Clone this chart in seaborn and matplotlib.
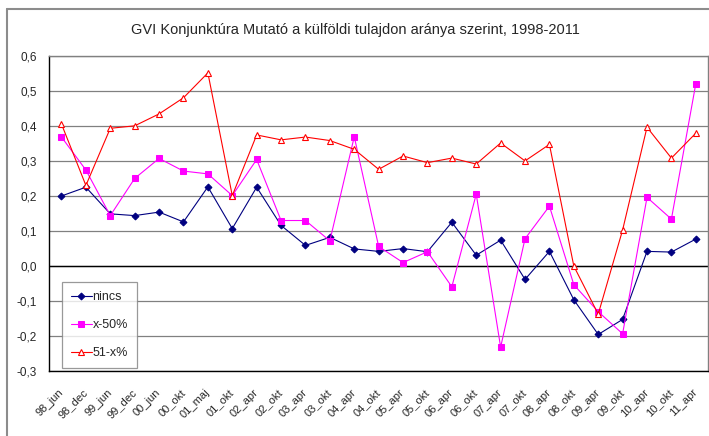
import numpy as np
import matplotlib
matplotlib.use("Agg")
import matplotlib.pyplot as plt
from matplotlib.lines import Line2D
from matplotlib.ticker import FuncFormatter, MultipleLocator
import seaborn as sns

categories = ["98_jun", "98_dec", "99_jun", "99_dec", "00_jun", "00_okt", "01_maj",
              "01_okt", "02_apr", "02_okt", "03_apr", "03_okt", "04_apr", "04_okt",
              "05_apr", "05_okt", "06_apr", "06_okt", "07_apr", "07_okt", "08_apr",
              "08_okt", "09_apr", "09_okt", "10_apr", "10_okt", "11_apr"]
nincs = [0.200, 0.225, 0.149, 0.144, 0.154, 0.126, 0.226, 0.107, 0.225, 0.116,
         0.059, 0.082, 0.049, 0.042, 0.050, 0.041, 0.125, 0.031, 0.074, -0.038,
         0.042, -0.096, -0.195, -0.152, 0.042, 0.040, 0.077]
x_50 = [0.368, 0.274, 0.144, 0.250, 0.307, 0.271, 0.263, 0.201, 0.304, 0.130,
        0.130, 0.072, 0.369, 0.056, 0.010, 0.041, -0.059, 0.205, -0.231, 0.078,
        0.171, -0.053, -0.130, -0.193, 0.196, 0.134, 0.520]
x_51 = [0.405, 0.230, 0.393, 0.400, 0.434, 0.480, 0.551, 0.201, 0.374, 0.360,
        0.368, 0.358, 0.333, 0.276, 0.314, 0.295, 0.308, 0.291, 0.351, 0.300,
        0.347, 0.000, -0.137, 0.103, 0.396, 0.308, 0.379]

sns.set_style("white")
plt.rcParams["font.family"] = ["Liberation Sans", "DejaVu Sans"]

W, H = 709, 436
fig = plt.figure(figsize=(W / 100, H / 100), dpi=100)
left, right, top, bottom = 49.3, 708, 55.7, 371.3
ax = fig.add_axes([left / W, 1 - bottom / H, (right - left) / W, (bottom - top) / H])

# outer chart border (grey)
fig.add_artist(Line2D([7 / W, 7 / W], [0, 1 - 9 / H], color="#8c8c8c", lw=1.5))
fig.add_artist(Line2D([7 / W, 1], [1 - 9 / H, 1 - 9 / H], color="#8c8c8c", lw=1.5))

pos = np.arange(len(categories))
sns.lineplot(x=pos, y=nincs, ax=ax, color="#000080", lw=0.8, marker="D",
             markersize=3.5, markeredgecolor="#000080", markerfacecolor="#000080",
             label="nincs")
sns.lineplot(x=pos, y=x_50, ax=ax, color="#ff00ff", lw=0.8, marker="s",
             markersize=5, markeredgecolor="#ff00ff", markerfacecolor="#ff00ff",
             label="x-50%")
sns.lineplot(x=pos, y=x_51, ax=ax, color="#ff0000", lw=0.8, marker="^",
             markersize=5, markeredgecolor="#ff0000", markerfacecolor="white",
             markeredgewidth=0.8, label="51-x%")

ax.set_xlim(-0.5, len(categories) - 0.5)
ax.set_ylim(-0.3, 0.6)
ax.yaxis.set_major_locator(MultipleLocator(0.1))
ax.yaxis.set_major_formatter(FuncFormatter(lambda v, p: f"{v:.1f}".replace(".", ",").replace("-0,0", "0,0")))
ax.grid(axis="y", color="#808080", lw=0.9)
ax.set_axisbelow(True)
ax.axhline(0, color="black", lw=1.0, zorder=1)

ax.set_xticks(pos)
ax.set_xticklabels(categories, rotation=45, ha="right", va="center",
                   rotation_mode="anchor", fontsize=8)
ax.set_xticks(np.arange(-0.5, len(categories), 1), minor=True)
ax.tick_params(axis="x", which="major", length=0, pad=14)
ax.tick_params(axis="x", which="minor", length=3, width=0.8, color="black", direction="out")
ax.tick_params(axis="y", length=3, width=0.8, color="black", direction="out",
               labelsize=8.5, pad=6)
ax.set_xlabel("")
ax.set_ylabel("")

for side in ["left", "bottom"]:
    ax.spines[side].set_color("black")
    ax.spines[side].set_linewidth(1.0)
for side in ["top", "right"]:
    ax.spines[side].set_color("#808080")
    ax.spines[side].set_linewidth(1.0)

leg = ax.legend(loc="lower left", bbox_to_anchor=(0.019, 0.01), fontsize=9,
                frameon=True, fancybox=False, edgecolor="#808080",
                labelspacing=1.3, handlelength=1.7, handletextpad=0.05,
                borderpad=0.7, borderaxespad=0)
leg.get_frame().set_linewidth(0.9)

fig.text(355 / W, 1 - 30 / H, "GVI Konjunktúra Mutató a külföldi tulajdon aránya szerint, 1998-2011",
         ha="center", va="center", fontsize=10.5)

fig.savefig("out.png", dpi=100)
